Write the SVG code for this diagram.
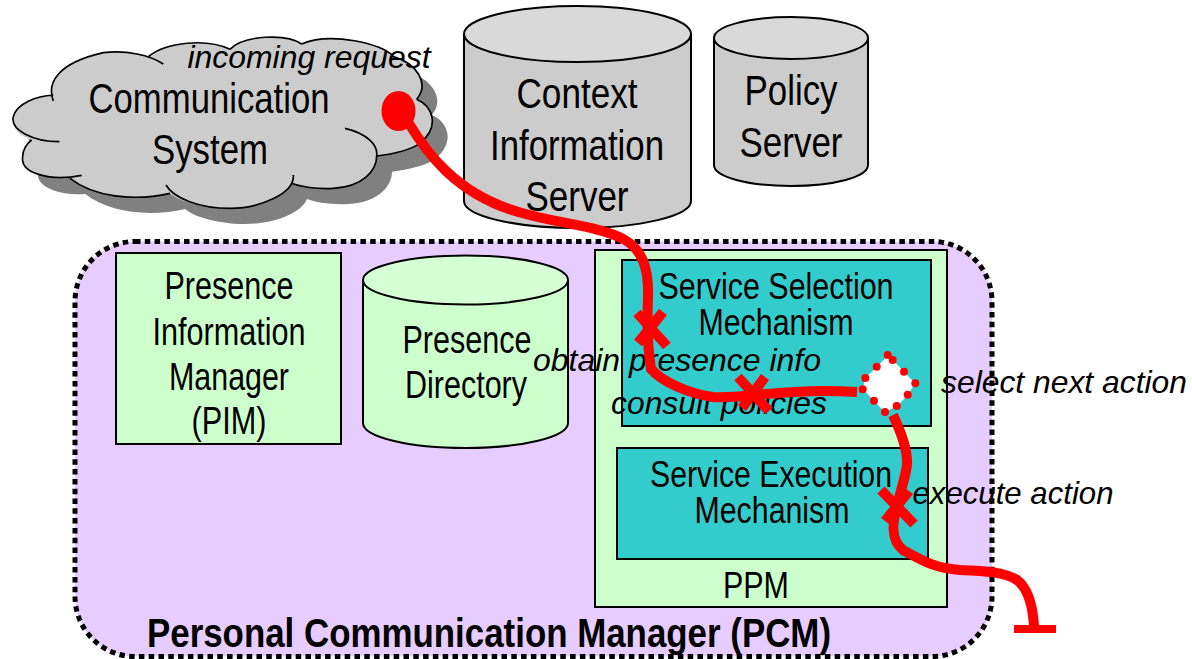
<svg xmlns="http://www.w3.org/2000/svg" width="1192" height="659" viewBox="0 0 1192 659">
<style>
text{font-family:"Liberation Sans",Arial,sans-serif;fill:#000;text-anchor:middle}
.n1{font-size:42px}
.n2{font-size:38px}
.n3{font-size:37px}
.t{font-size:40px;font-weight:700}
.i{font-size:32px;font-style:italic}
.s{stroke:#000;stroke-width:2}
.cyl{stroke:#000;stroke-width:2}
.route{fill:none;stroke:#f00;stroke-width:10}
.x{fill:none;stroke:#f00;stroke-width:10}
.cl{fill:none;stroke:#000;stroke-width:5}
.d{fill:#f00}
</style>
<defs>
<path id="cloudfill" d="M160 243C140 190 170 130 310 98C370 92 420 100 445 110C500 65 620 55 690 88C730 45 860 40 905 72C990 35 1150 70 1180 110C1250 130 1290 190 1250 238C1300 260 1320 320 1260 370C1230 390 1180 402 1130 408C1130 450 1090 500 1000 505C950 508 900 500 875 490C860 530 780 565 690 565C600 565 530 540 510 520C400 545 280 530 210 475C150 480 60 460 68 410C68 390 80 370 95 360C40 345 30 300 45 275C70 240 120 228 160 225Z"/>
</defs>
<g id="cloud">
<g transform="translate(0 20) scale(.33333)">
<use href="#cloudfill" transform="translate(46 47)" fill="#808080"/>
<use href="#cloudfill" fill="#ccc"/>
<path class="cl" d="M160 243C140 190 170 130 310 98C380 90 450 105 490 132M445 110C500 65 620 55 690 88M690 88C730 45 860 40 905 72M905 72C990 35 1150 70 1180 110C1250 130 1290 190 1250 238M1250 238C1300 260 1320 320 1260 370C1230 390 1180 402 1130 408M1035 325C1100 340 1135 375 1130 408C1130 450 1090 500 1000 505C950 508 900 500 875 490M880 465C885 520 780 565 690 565C600 565 520 535 498 495M510 520C400 545 280 530 210 475M245 466C150 485 60 460 68 410C68 390 80 370 95 360M178 365C100 365 30 330 40 290C50 250 110 228 160 225"/>
</g>
<text class="n1" x="209" y="113" textLength="241" lengthAdjust="spacingAndGlyphs">Communication</text>
<text class="n1" x="210" y="164" textLength="116" lengthAdjust="spacingAndGlyphs">System</text>
</g>
<g id="context-server">
<path class="cyl" fill="#ccc" d="M464 34V201C464 216 515 228 577.500 228S691 216 691 201V34"/>
<ellipse class="cyl" cx="577.500" cy="34" rx="113.500" ry="28" fill="#d9d9d9"/>
<text class="n1" x="577" y="108" textLength="121" lengthAdjust="spacingAndGlyphs">Context</text>
<text class="n1" x="577" y="160" textLength="174" lengthAdjust="spacingAndGlyphs">Information</text>
<text class="n1" x="577" y="211" textLength="103" lengthAdjust="spacingAndGlyphs">Server</text>
</g>
<g id="policy-server">
<path class="cyl" fill="#ccc" d="M714 38V165C714 177 748 186 791 186S868 177 868 165V38"/>
<ellipse class="cyl" cx="791" cy="38" rx="77" ry="21" fill="#d9d9d9"/>
<text class="n1" x="791" y="105" textLength="93" lengthAdjust="spacingAndGlyphs">Policy</text>
<text class="n1" x="791" y="157" textLength="103" lengthAdjust="spacingAndGlyphs">Server</text>
</g>
<g id="pcm">
<rect x="75" y="241.500" width="917" height="415" rx="60" ry="60" fill="#e6ccff" stroke="#000" stroke-width="5" stroke-dasharray="5.500 4.300"/>
<text class="t" x="489" y="647" textLength="684" lengthAdjust="spacingAndGlyphs">Personal Communication Manager (PCM)</text>
</g>
<g id="pim">
<rect class="s" x="116" y="253" width="225" height="191" fill="#ccffcc"/>
<text class="n2" x="229" y="299" textLength="129" lengthAdjust="spacingAndGlyphs">Presence</text>
<text class="n2" x="229" y="345" textLength="153" lengthAdjust="spacingAndGlyphs">Information</text>
<text class="n2" x="229" y="390" textLength="120" lengthAdjust="spacingAndGlyphs">Manager</text>
<text class="n2" x="229" y="434" textLength="75" lengthAdjust="spacingAndGlyphs">(PIM)</text>
</g>
<g id="presence-directory">
<path class="cyl" fill="#ccffcc" d="M363 280V423C363 437 409 448 465.500 448S568 437 568 423V280"/>
<ellipse class="cyl" cx="465.500" cy="280" rx="102.500" ry="24.500" fill="#d5ffd5"/>
<text class="n2" x="467" y="353" textLength="129" lengthAdjust="spacingAndGlyphs">Presence</text>
<text class="n2" x="466" y="398" textLength="122" lengthAdjust="spacingAndGlyphs">Directory</text>
</g>
<g id="ppm">
<rect class="s" x="595" y="250" width="352" height="357" fill="#ccffcc"/>
<text class="n3" x="756" y="598" textLength="66" lengthAdjust="spacingAndGlyphs">PPM</text>
</g>
<g id="service-selection">
<rect class="s" x="622" y="260" width="309" height="166" fill="#3cc"/>
<text class="n3" x="776" y="299" textLength="235" lengthAdjust="spacingAndGlyphs">Service Selection</text>
<text class="n3" x="776" y="335" textLength="155" lengthAdjust="spacingAndGlyphs">Mechanism</text>
</g>
<g id="service-execution">
<rect class="s" x="617" y="448" width="311" height="111" fill="#3cc"/>
<text class="n3" x="771" y="487" textLength="242" lengthAdjust="spacingAndGlyphs">Service Execution</text>
<text class="n3" x="772" y="523" textLength="155" lengthAdjust="spacingAndGlyphs">Mechanism</text>
</g>
<g id="labels">
<text class="i" x="309" y="68" textLength="243" lengthAdjust="spacingAndGlyphs">incoming request</text>
<text class="i" x="677" y="371" textLength="288" lengthAdjust="spacingAndGlyphs">obtain presence info</text>
<text class="i" x="719" y="414" textLength="216" lengthAdjust="spacingAndGlyphs">consult policies</text>
<text class="i" x="1064" y="393" textLength="246" lengthAdjust="spacingAndGlyphs">select next action</text>
<text class="i" x="1013" y="504" textLength="201" lengthAdjust="spacingAndGlyphs">execute action</text>
</g>
<g id="connectors">
<path class="route" d="M408 122C425 150 455 195 522 213C560 224 600 226 625 240C642 250 649 268 648 297C647 320 648 350 651 369C662 382 690 394 713 397C745 399 780 388 857 392"/>
<path class="route" d="M893 415C901 432 908 450 907 465C905 480 899 495 897 507C893 520 890 540 903 550C925 562 935 568 960 570C985 571 1005 572 1017 580C1030 590 1033 610 1034 626"/>
<path fill="none" stroke="#f00" stroke-width="8" d="M1014 629H1056"/>
<ellipse cx="398.500" cy="111" rx="17" ry="20" fill="#f00"/>
<path class="x" d="M637 313L667 346M663 312L638 343M738 377L769 411M765 377L742 408M881 490L914 524M909 491L885 521"/>
<path d="M888 355L893 360L904 372L915 383L908 395L897 406L885 412L874 401L863 389L865 378L877 367Z" fill="#fff"/>
<g class="d">
<circle cx="887.700" cy="355" r="4"/><circle cx="892.700" cy="360" r="4"/><circle cx="876.700" cy="366.700" r="4"/><circle cx="904" cy="371.700" r="4"/><circle cx="865.300" cy="378" r="4"/><circle cx="915.300" cy="383.300" r="4"/><circle cx="862.700" cy="389.300" r="4"/><circle cx="907.700" cy="394.700" r="4"/><circle cx="874" cy="400.700" r="4"/><circle cx="896.700" cy="406" r="4"/><circle cx="885" cy="412" r="4"/>
</g>
</g>
</svg>
